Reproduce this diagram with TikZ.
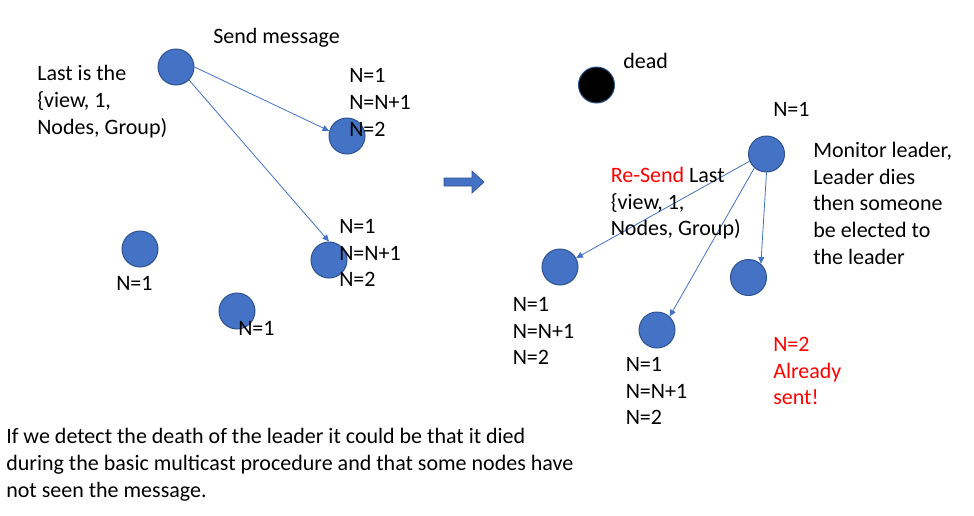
\documentclass[tikz,border=0pt]{standalone}
\usepackage{fontspec}
\setmainfont{Carlito}
\usetikzlibrary{arrows.meta}
\definecolor{accblue}{HTML}{4472C4}
\definecolor{accedge}{HTML}{2F528F}
\definecolor{txtred}{HTML}{FF0000}
\begin{document}
\begin{tikzpicture}[x=0.75pt,y=-0.75pt,
  dot/.style={circle, fill=accblue, draw=accedge, line width=0.75pt, minimum size=27pt, inner sep=0pt},
  deaddot/.style={dot, fill=black},
  msg/.style={-{Triangle[length=5pt,width=4.5pt]}, draw=accblue, line width=0.6pt},
  lbl/.style={anchor=base west, inner sep=0pt, align=left, font=\fontsize{16.5}{20}\selectfont},
  redlbl/.style={lbl, text=txtred},
]
\useasboundingbox (0,0) rectangle (974,515);
% left scene
\node[dot] (L1) at (176,67) {};
\node[dot] (A) at (347,136) {};
\node[dot] (B) at (329,260) {};
\node[dot] (C1) at (140,249) {};
\node[dot] (C2) at (237,311) {};
\draw[msg] (L1.east) -- (A.164);
\draw[msg] (L1.-45) -- (B.north);
\node[lbl] (send) at (213,43) {Send message};
\node[lbl] (last) at (37,134.3) {Last is the\\\{view, 1,\\Nodes, Group)};
\node[lbl] (tA) at (349,136.3) {N=1\\N=N+1\\N=2};
\node[lbl] (tB) at (339,286.8) {N=1\\N=N+1\\N=2};
\node[lbl] (tC1) at (116,290) {N=1};
\node[lbl] (tC2) at (238,335) {N=1};
% transition arrow
\filldraw[fill=accblue, draw=accedge, line width=0.5pt] (444,178) -- (472,178) -- (472,171) -- (484,182) -- (472,193) -- (472,186) -- (444,186) -- cycle;
% right scene
\node[deaddot] (X) at (596.5,85) {};
\node[dot] (R) at (766.5,154) {};
\node[dot] (P) at (560,267) {};
\node[dot] (Q) at (657,330) {};
\node[dot] (S) at (748.5,277.5) {};
\draw[msg] (R.203) -- (P.29);
\draw[msg] (R.229) -- (Q.47);
\draw[msg] (R.south) -- (S.48);
\node[lbl] (tdead) at (623,68.5) {dead};
\node[lbl] (tR) at (773,116) {N=1};
\node[lbl] (resend) at (610.5,235.8) {{\color{txtred}Re-Send} Last\\\{view, 1,\\Nodes, Group)};
\node[lbl] (monitor) at (813,264.2) {Monitor leader,\\Leader dies\\then someone\\be elected to\\the leader};
\node[lbl] (tP) at (512.5,364.8) {N=1\\N=N+1\\N=2};
\node[lbl] (tQ) at (625.5,424.8) {N=1\\N=N+1\\N=2};
\node[redlbl] (tS) at (773,404.8) {N=2\\Already\\sent!};
\node[lbl] (note) at (6,497.3) {If we detect the death of the leader it could be that it died\\during the basic multicast procedure and that some nodes have\\not seen the message.};
\end{tikzpicture}
\end{document}
